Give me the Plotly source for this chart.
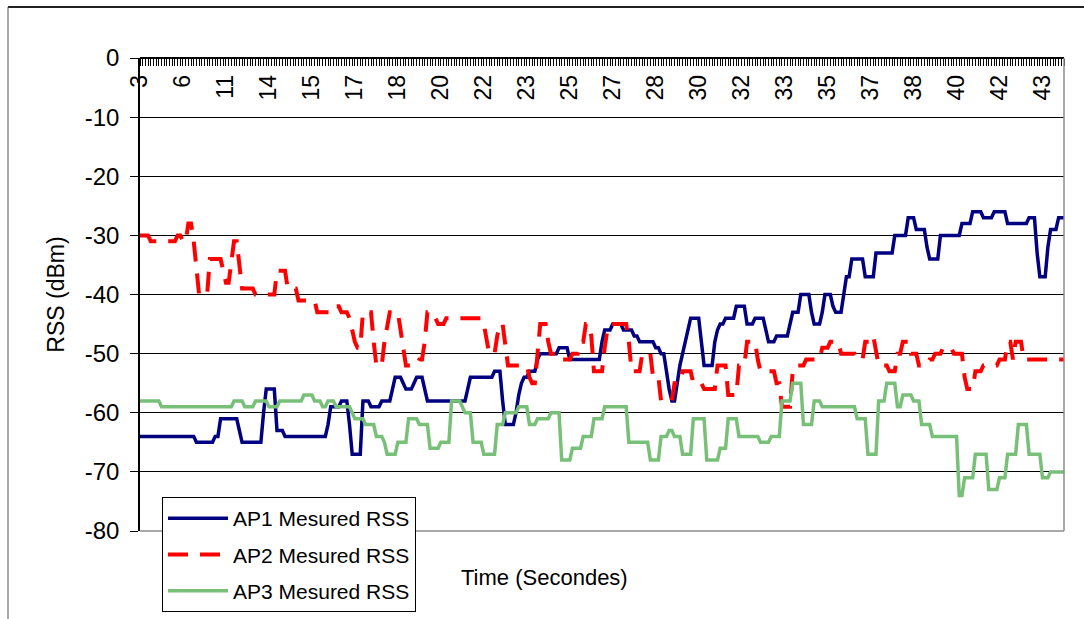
import plotly.graph_objects as go

# Category axis: one sample per category, a time label every 16th sample
n_samples = 345
label_every = 16
time_labels = ['3', '6', '11', '14', '15', '17', '18', '20', '22', '23', '25',
               '27', '28', '30', '32', '33', '35', '37', '38', '40', '42', '43']

# Received signal strength per AP, as (first sample index, RSS in dBm) steps
ap1_steps = [(0, -64), (21, -65), (28, -64), (30, -61), (37, -63), (38, -65),
             (46, -60), (47, -56), (51, -63), (54, -64), (70, -62), (71, -59),
             (75, -58), (78, -62), (79, -67), (83, -58), (86, -59), (90, -58),
             (94, -56), (95, -54), (98, -55), (99, -56), (102, -55), (103, -54),
             (106, -56), (107, -58), (122, -56), (123, -54), (132, -53), (135, -58),
             (136, -62), (140, -60), (141, -57), (142, -55), (143, -54), (145, -53),
             (148, -51), (149, -50), (156, -49), (160, -51), (172, -48), (173, -46),
             (176, -45), (180, -46), (184, -47), (186, -48), (192, -49), (194, -50),
             (196, -53), (197, -56), (198, -58), (200, -55), (201, -52), (202, -50),
             (203, -48), (204, -46), (205, -44), (209, -48), (210, -52), (214, -48),
             (215, -46), (216, -45), (218, -44), (222, -42), (226, -45), (229, -44),
             (233, -46), (234, -48), (237, -47), (242, -45), (243, -43), (246, -40),
             (250, -43), (251, -45), (254, -43), (255, -40), (258, -42), (259, -43),
             (262, -40), (263, -37), (265, -34), (270, -37), (274, -33), (281, -30),
             (286, -27), (289, -29), (293, -32), (294, -34), (298, -30), (306, -28),
             (310, -26), (314, -27), (318, -26), (323, -28), (331, -27), (334, -33),
             (335, -37), (338, -32), (339, -29), (342, -27)]

ap2_steps = [(0, -30), (4, -31), (14, -30), (16, -31), (18, -28), (20, -31),
             (21, -35), (22, -40), (26, -34), (31, -36), (32, -38), (34, -35),
             (35, -31), (37, -35), (38, -39), (43, -40), (51, -36), (55, -39),
             (59, -41), (66, -43), (73, -42), (75, -43), (78, -44), (79, -46),
             (80, -48), (81, -49), (83, -43), (87, -48), (88, -52), (91, -48),
             (92, -45), (93, -43), (97, -46), (98, -49), (99, -52), (104, -51),
             (106, -48), (107, -43), (110, -44), (111, -45), (114, -44), (128, -45),
             (129, -48), (130, -50), (133, -47), (134, -45), (136, -49), (137, -52),
             (145, -54), (146, -55), (148, -49), (149, -45), (152, -48), (153, -50),
             (157, -51), (161, -50), (164, -48), (166, -45), (168, -47), (169, -53),
             (173, -49), (174, -46), (175, -45), (182, -48), (183, -53), (187, -50),
             (191, -54), (194, -58), (199, -55), (202, -53), (206, -55), (210, -56),
             (215, -52), (219, -57), (223, -52), (226, -48), (230, -51), (231, -53),
             (237, -55), (239, -59), (243, -53), (244, -52), (248, -51), (254, -49),
             (257, -48), (261, -50), (267, -51), (270, -48), (273, -47), (274, -50),
             (275, -52), (279, -53), (282, -50), (284, -48), (287, -50), (290, -52),
             (294, -51), (296, -50), (299, -49), (303, -50), (307, -54), (308, -56),
             (311, -53), (314, -52), (320, -51), (323, -48), (325, -51), (326, -48),
             (329, -51)]

ap3_steps = [(0, -58), (8, -59), (35, -58), (39, -59), (43, -58), (48, -59),
             (52, -58), (61, -57), (65, -58), (68, -59), (70, -58), (73, -59),
             (79, -60), (80, -61), (84, -62), (88, -64), (91, -65), (92, -67),
             (96, -65), (100, -61), (104, -62), (108, -66), (112, -65), (116, -58),
             (120, -59), (121, -60), (124, -65), (128, -67), (133, -62), (136, -60),
             (141, -59), (145, -62), (148, -61), (153, -60), (157, -68), (161, -66),
             (165, -64), (169, -61), (173, -59), (182, -65), (190, -68), (194, -64),
             (197, -63), (199, -64), (202, -67), (206, -61), (211, -68), (216, -66),
             (219, -61), (223, -64), (231, -65), (235, -64), (239, -58), (243, -55),
             (247, -62), (251, -58), (254, -59), (267, -61), (271, -67), (275, -58),
             (278, -55), (282, -59), (284, -57), (288, -58), (291, -62), (295, -64),
             (305, -74), (307, -71), (311, -67), (316, -73), (320, -71), (323, -67),
             (327, -62), (331, -67), (336, -71), (339, -70)]

y_ticks = [0, -10, -20, -30, -40, -50, -60, -70, -80]
y_tick_text = ['0', '-10', '-20', '-30', '-40', '-50', '-60', '-70', '-80']


def expand(steps, n):
    """Hold each step value until the next step starts."""
    values = []
    for k, (start, v) in enumerate(steps):
        end = steps[k + 1][0] if k + 1 < len(steps) else n
        values.extend([v] * (end - start))
    return values


x = list(range(n_samples))
series = [
    ('AP1 Mesured RSS', ap1_steps, dict(color='#000080', width=3.5)),
    ('AP2 Mesured RSS', ap2_steps, dict(color='#ff0000', width=4, dash='20px,12px')),
    ('AP3 Mesured RSS', ap3_steps, dict(color='#78c078', width=3.5)),
]

FONT = 'Liberation Sans, Arial, sans-serif'
fig = go.Figure()
for i, (name, steps, line) in enumerate(series):
    fig.add_trace(go.Scatter(x=x, y=expand(steps, n_samples), mode='lines',
                             name=name, line=line, legendgroup=str(i)))

tick_idx = [k * label_every for k in range(len(time_labels))]

# pixel geometry of the plot area
L, R, T, B, W, H = 140, 20, 58, 88, 1084, 619
pw, ph = W - L - R, H - T - B


def px(xp):
    return (xp - L) / pw


def py(yp):
    return (H - B - yp) / ph


fig.update_layout(
    width=W, height=H,
    margin=dict(l=L, r=R, t=T, b=B, pad=0, autoexpand=False),
    paper_bgcolor='white', plot_bgcolor='white',
    font=dict(family=FONT, size=21, color='black'),
    showlegend=True,
    legend=dict(x=px(162), y=py(497), xanchor='left', yanchor='top',
                bgcolor='white', bordercolor='black', borderwidth=1,
                font=dict(family=FONT, size=21, color='black'),
                traceorder='grouped', tracegroupgap=6, itemwidth=60),
    xaxis=dict(range=[0, n_samples - 1], anchor='free', position=1, side='bottom',
               automargin=False,
               tickmode='array', tickvals=tick_idx, ticktext=time_labels,
               tickangle=-90, ticks='outside', ticklen=7, tickcolor='black',
               tickfont=dict(family=FONT, size=23, color='black'),
               minor=dict(tickmode='linear', tick0=0, dtick=1, ticks='outside',
                          ticklen=7, tickcolor='black', tickwidth=1),
               showline=True, linecolor='black', linewidth=1.5,
               showgrid=False, zeroline=False),
    yaxis=dict(range=[-80, 0], tickmode='array', tickvals=y_ticks, ticktext=y_tick_text,
               automargin=False,
               ticks='outside', ticklen=8, tickcolor='black', ticklabelstandoff=6,
               tickfont=dict(family=FONT, size=24, color='black'),
               showgrid=True, gridcolor='black', gridwidth=1,
               showline=True, linecolor='black', linewidth=1.5, zeroline=False,
               title=dict(text='RSS (dBm)', standoff=14,
                          font=dict(family=FONT, size=23, color='black'))),
    annotations=[dict(text='Time (Secondes)', xref='paper', yref='paper',
                      x=px(544), y=py(577), xanchor='center', yanchor='middle',
                      showarrow=False, font=dict(family=FONT, size=22, color='black'))],
    shapes=[
        # plot area border on the right and bottom
        dict(type='line', xref='paper', yref='paper', x0=1, x1=1, y0=0, y1=1,
             line=dict(color='#8c8c8c', width=1.5), layer='above'),
        dict(type='line', xref='paper', yref='paper', x0=0, x1=1, y0=0, y1=0,
             line=dict(color='#8c8c8c', width=1.5), layer='above'),
        # outer chart frame
        dict(type='line', xref='paper', yref='paper', x0=px(8), x1=px(W), y0=py(7), y1=py(7),
             line=dict(color='#222222', width=2)),
        dict(type='line', xref='paper', yref='paper', x0=px(8), x1=px(8), y0=py(7), y1=py(H),
             line=dict(color='#555555', width=1)),
    ],
)

fig.write_html('out.html')
